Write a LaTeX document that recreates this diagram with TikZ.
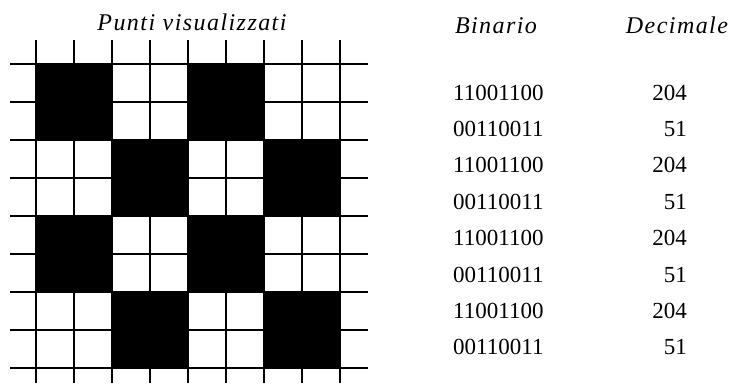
\documentclass[tikz,border=0pt]{standalone}
\usepackage{fontspec}
\setmainfont{Liberation Serif}
\begin{document}
\begin{tikzpicture}[x=1pt,y=-1pt,
  gridline/.style={line width=1.1pt,black},
  border/.style={line width=2pt,black},
  blk/.style={fill=black},
  head/.style={anchor=base,font=\fontsize{24}{24}\selectfont\itshape\addfontfeature{LetterSpace=6},inner sep=0pt},
  num/.style={anchor=base west,font=\fontsize{23}{23}\selectfont,inner sep=0pt},
  dec/.style={anchor=base east,font=\fontsize{23}{23}\selectfont,inner sep=0pt}]
\useasboundingbox (0,0) rectangle (733,383);
% black blocks
\foreach \r/\c in {0/0,0/2,1/1,1/3,2/0,2/2,3/1,3/3}{
  \fill[blk] ({36+76*\c},{64+76*\r}) rectangle ++(76,76);
}
% vertical lines with ticks
\foreach \i in {0,...,8}{
  \draw[gridline] ({36+38*\i},40) -- ({36+38*\i},383);
}
% horizontal lines with ticks
\foreach \j in {0,...,8}{
  \draw[gridline] (10,{64+38*\j}) -- (368,{64+38*\j});
}
% border
\draw[border] (36,64) rectangle (340,368);
% texts
\node[head] (title) at (192,30) {Punti visualizzati};
\node[head] (hbin) at (496,33) {Binario};
\node[head] (hdec) at (677,33) {Decimale};
\foreach \k/\b/\d in {0/11001100/204,1/00110011/51,2/11001100/204,3/00110011/51,4/11001100/204,5/00110011/51,6/11001100/204,7/00110011/51}{
  \node[num] (b\k) at (453,{100+36.4*\k}) {\b};
  \node[dec] (d\k) at (687,{100+36.4*\k}) {\d};
}
\end{tikzpicture}
\end{document}
